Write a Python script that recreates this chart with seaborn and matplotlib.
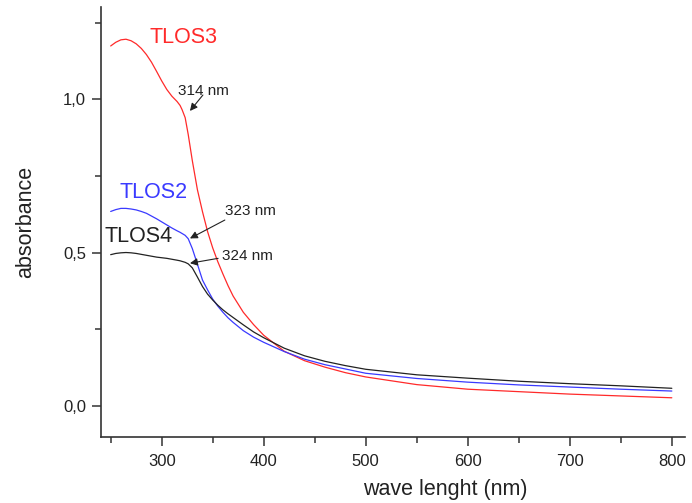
import numpy as np
import pandas as pd
import matplotlib
matplotlib.use("Agg")
import matplotlib.pyplot as plt
import seaborn as sns
from matplotlib.ticker import MultipleLocator, FuncFormatter

wavelength = [250, 255, 260, 265, 270, 275, 280, 285, 290, 295, 300, 305, 310, 315,
              318, 320, 323, 326, 330, 335, 340, 345, 350, 355, 360, 365, 370, 380,
              390, 400, 420, 440, 460, 480, 500, 550, 600, 650, 700, 750, 800]
tlos3 = [1.174, 1.186, 1.194, 1.196, 1.191, 1.181, 1.166, 1.146, 1.121, 1.091, 1.060,
         1.032, 1.010, 0.993, 0.980, 0.966, 0.940, 0.885, 0.800, 0.705, 0.633, 0.568,
         0.515, 0.470, 0.430, 0.392, 0.358, 0.305, 0.265, 0.230, 0.178, 0.147, 0.126,
         0.108, 0.094, 0.069, 0.054, 0.046, 0.038, 0.032, 0.026]
tlos2 = [0.634, 0.640, 0.644, 0.644, 0.642, 0.639, 0.634, 0.628, 0.619, 0.610, 0.600,
         0.590, 0.580, 0.571, 0.566, 0.562, 0.556, 0.545, 0.513, 0.462, 0.410, 0.378,
         0.348, 0.325, 0.305, 0.287, 0.272, 0.245, 0.224, 0.207, 0.177, 0.152, 0.134,
         0.120, 0.106, 0.089, 0.077, 0.068, 0.061, 0.054, 0.048]
tlos4 = [0.493, 0.497, 0.499, 0.500, 0.499, 0.497, 0.494, 0.491, 0.488, 0.485, 0.483,
         0.481, 0.478, 0.475, 0.473, 0.471, 0.468, 0.463, 0.450, 0.420, 0.389, 0.364,
         0.345, 0.328, 0.313, 0.300, 0.288, 0.264, 0.241, 0.222, 0.188, 0.163, 0.145,
         0.131, 0.119, 0.101, 0.090, 0.080, 0.072, 0.065, 0.057]

series_names = ["TLOS3", "TLOS2", "TLOS4"]
series_colors = {"TLOS3": "#ff2a2a", "TLOS2": "#3a3aff", "TLOS4": "#222222"}

df = pd.concat([
    pd.DataFrame({"wl": wavelength, "abs": tlos3, "sample": "TLOS3"}),
    pd.DataFrame({"wl": wavelength, "abs": tlos2, "sample": "TLOS2"}),
    pd.DataFrame({"wl": wavelength, "abs": tlos4, "sample": "TLOS4"}),
])

sns.set_style("ticks")
plt.rcParams["font.family"] = ["Liberation Sans", "DejaVu Sans"]

fig = plt.figure(figsize=(6.92, 5.03), dpi=100)
ax = fig.add_axes([0.1455, 0.1318, 0.8445, 0.8542])

sns.lineplot(data=df, x="wl", y="abs", hue="sample", palette=series_colors,
             hue_order=series_names, legend=False, ax=ax, linewidth=0.9,
             estimator=None, sort=False)

ax.set_xlim(240.2, 813)
ax.set_ylim(-0.101, 1.301)
ax.xaxis.set_major_locator(MultipleLocator(100))
ax.xaxis.set_minor_locator(MultipleLocator(50))
ax.yaxis.set_major_locator(MultipleLocator(0.5))
ax.yaxis.set_minor_locator(MultipleLocator(0.25))
ax.yaxis.set_major_formatter(FuncFormatter(lambda v, p: f"{v:.1f}".replace(".", ",")))
ax.set_xticks([300, 400, 500, 600, 700, 800])

for side in ["top", "right"]:
    ax.spines[side].set_visible(False)
for side in ["left", "bottom"]:
    ax.spines[side].set_linewidth(1.2)
    ax.spines[side].set_color("#333333")

ax.tick_params(which="major", direction="out", length=6.5, width=1.1,
               color="#333333", labelsize=12, labelcolor="#222222")
ax.tick_params(which="minor", direction="out", length=4, width=1.1, color="#333333")
ax.tick_params(axis="x", which="major", pad=6)
ax.tick_params(axis="y", which="major", pad=4)

ax.set_xlabel("wave lenght (nm)", fontsize=15.5, color="#222222")
ax.set_ylabel("absorbance", fontsize=15.5, color="#222222")
ax.xaxis.set_label_coords(0.589, -0.098)
ax.yaxis.set_label_coords(-0.111, 0.5)

ax.text(321.8, 1.20, "TLOS3", color="#ff2a2a", fontsize=15.5, ha="center", va="center")
ax.text(292.3, 0.696, "TLOS2", color="#3a3aff", fontsize=15.5, ha="center", va="center")
ax.text(277.8, 0.551, "TLOS4", color="#222222", fontsize=15.5, ha="center", va="center")

arrow_kw = dict(arrowstyle="-|>", color="#222222", lw=0.8, mutation_scale=11,
                shrinkA=0, shrinkB=0)
ax.text(341.3, 1.027, "314 nm", fontsize=11, color="#222222", ha="center", va="center")
ax.annotate("", xy=(327.7, 0.962), xytext=(340.4, 1.014), arrowprops=arrow_kw)
ax.text(387.3, 0.635, "323 nm", fontsize=11, color="#222222", ha="center", va="center")
ax.annotate("", xy=(327.7, 0.546), xytext=(361.9, 0.606), arrowprops=arrow_kw)
ax.text(383.9, 0.489, "324 nm", fontsize=11, color="#222222", ha="center", va="center")
ax.annotate("", xy=(327.7, 0.465), xytext=(355.3, 0.481), arrowprops=arrow_kw)

fig.savefig("out.png", dpi=100)
